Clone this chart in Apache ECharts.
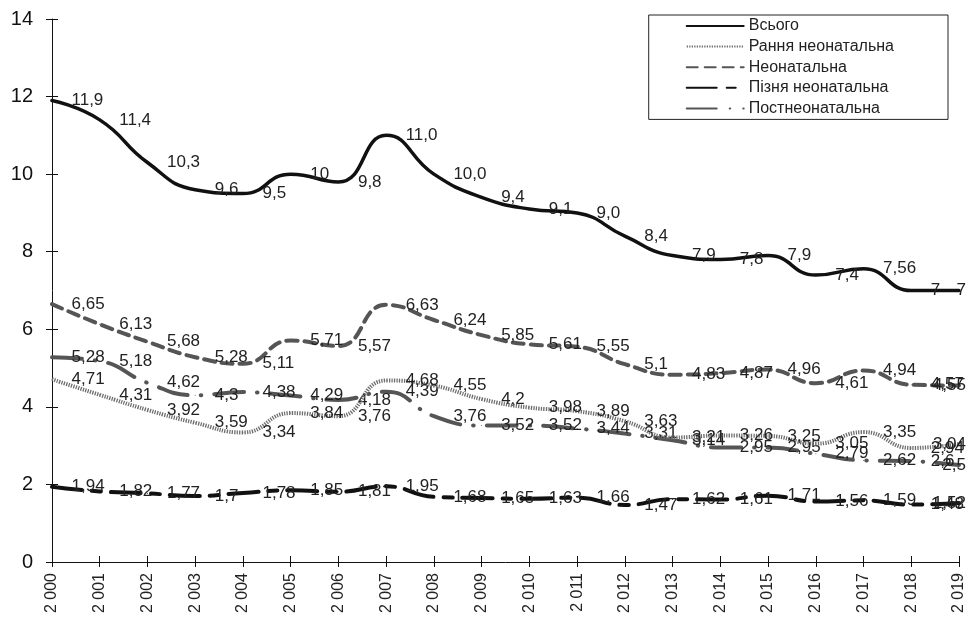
<!DOCTYPE html>
<html>
<head>
<meta charset="utf-8">
<script src="https://cdn.jsdelivr.net/npm/echarts@6/dist/echarts.min.js"></script>
<style>
  html, body { margin: 0; padding: 0; background: #fff; }
  #chart { width: 967px; height: 617px; }
</style>
</head>
<body>
<div id="chart"></div>
<script>
// Роки спостереження (підписи осі X)
const years = ['2 000', '2 001', '2 002', '2 003', '2 004', '2 005', '2 006', '2 007', '2 008', '2 009',
               '2 010', '2 011', '2 012', '2 013', '2 014', '2 015', '2 016', '2 017', '2 018', '2 019'];

// Показники смертності (на 1000 народжених живими)
const vsogo        = [11.9, 11.4, 10.3, 9.6, 9.5, 10, 9.8, 11.0, 10.0, 9.4, 9.1, 9.0, 8.4, 7.9, 7.8, 7.9, 7.4, 7.56, 7, 7];
const rannia       = [4.71, 4.31, 3.92, 3.59, 3.34, 3.84, 3.76, 4.68, 4.55, 4.2, 3.98, 3.89, 3.63, 3.21, 3.26, 3.25, 3.05, 3.35, 2.94, 3.04];
const neonatalna   = [6.65, 6.13, 5.68, 5.28, 5.11, 5.71, 5.57, 6.63, 6.24, 5.85, 5.61, 5.55, 5.1, 4.83, 4.87, 4.96, 4.61, 4.94, 4.57, 4.55];
const piznia       = [1.94, 1.82, 1.77, 1.7, 1.78, 1.85, 1.81, 1.95, 1.68, 1.65, 1.63, 1.66, 1.47, 1.62, 1.61, 1.71, 1.56, 1.59, 1.48, 1.52];
const postneonatal = [5.28, 5.18, 4.62, 4.3, 4.38, 4.29, 4.18, 4.39, 3.76, 3.52, 3.52, 3.44, 3.31, 3.14, 2.95, 2.95, 2.79, 2.62, 2.6, 2.5];

// Поділки осі Y
const yMin = 0, yMax = 14, yStep = 2;

const FONT = '"Liberation Sans", Arial, sans-serif';
const chart = echarts.init(document.getElementById('chart'), null, { renderer: 'canvas' });
const W = 967;

const fmt = v => String(v).replace('.', ',');
const fmtFixed1 = v => v.toFixed(1).replace('.', ',');

// Підписи значень праворуч від точки; останні притискаються до краю
function keepInside(p) {
  const r = p.labelRect;
  if (r.x + r.width > W - 1) return { dx: (W - 1) - (r.x + r.width) };
  return {};
}

function makeSeries(name, data, color, width, dash, cap, labelFmt, z) {
  return {
    name: name,
    type: 'line',
    data: data,
    smooth: 0.5,
    symbol: 'circle',
    symbolSize: 1,
    showSymbol: true,
    z: z,
    itemStyle: { color: color },
    lineStyle: { color: color, width: width, type: dash, cap: cap },
    label: {
      show: true,
      position: 'right',
      distance: 19,
      color: '#222',
      fontSize: 17,
      fontFamily: FONT,
      formatter: p => labelFmt(p.value, p.dataIndex)
    },
    labelLayout: keepInside,
    emphasis: { disabled: true }
  };
}

// У «Всього» частина цілих значень подана з одним знаком після коми
const vsogoFixedIdx = new Set([7, 8, 11]);
const vsogoFmt = (v, i) => vsogoFixedIdx.has(i) ? fmtFixed1(v) : fmt(v);

const series = [
  makeSeries('Всього', vsogo, '#111', 3.5, 'solid', 'round', vsogoFmt, 5),
  makeSeries('Рання неонатальна', rannia, '#6e6e6e', 4, [1.3, 1.2], 'butt', fmt, 4),
  makeSeries('Неонатальна', neonatalna, '#555', 4, [11, 7], 'round', fmt, 3),
  makeSeries('Пізня неонатальна', piznia, '#111', 4, [30, 10, 9, 10], 'round', fmt, 2),
  makeSeries('Постнеонатальна', postneonatal, '#555', 4, [30, 13, 0.5, 13], 'round', fmt, 1)
];

const option = {
  backgroundColor: '#fff',
  animation: false,
  textStyle: { fontFamily: FONT },
  grid: { left: 52, right: 8, top: 19, bottom: 55, containLabel: false },
  legend: {
    orient: 'vertical',
    right: 19,
    top: 15,
    padding: [3, 54, 3, 37],
    itemWidth: 57,
    itemHeight: 14,
    itemGap: 4.6,
    borderColor: '#222',
    borderWidth: 1,
    borderRadius: 0,
    itemStyle: { opacity: 0 },
    textStyle: { fontSize: 16, color: '#222', fontFamily: FONT, lineHeight: 14 },
    data: ['Всього', 'Рання неонатальна', 'Неонатальна', 'Пізня неонатальна', 'Постнеонатальна']
  },
  xAxis: [{
    type: 'category',
    data: years,
    boundaryGap: false,
    axisLine: { lineStyle: { color: '#111', width: 1 } },
    axisTick: { show: true, length: 5, lineStyle: { color: '#111' } },
    axisLabel: { rotate: 90, margin: 11, fontSize: 16, color: '#222', fontFamily: FONT },
    splitLine: { show: false }
  }, {
    type: 'category',
    data: years,
    boundaryGap: false,
    position: 'bottom',
    axisLine: { show: false },
    axisTick: { show: true, inside: true, length: 6, lineStyle: { color: '#111' } },
    axisLabel: { show: false },
    splitLine: { show: false }
  }],
  yAxis: [{
    type: 'value',
    min: yMin, max: yMax, interval: yStep,
    axisLine: { show: true, lineStyle: { color: '#111', width: 1 } },
    axisTick: { show: true, length: 6, lineStyle: { color: '#111' } },
    axisLabel: { margin: 19, fontSize: 20, color: '#111', fontFamily: FONT },
    splitLine: { show: false }
  }, {
    type: 'value',
    position: 'left',
    min: yMin, max: yMax, interval: yStep,
    axisLine: { show: false },
    axisTick: { show: true, inside: true, length: 6, lineStyle: { color: '#111' } },
    axisLabel: { show: false },
    splitLine: { show: false }
  }],
  series: series
};

chart.setOption(option);
</script>
</body>
</html>
